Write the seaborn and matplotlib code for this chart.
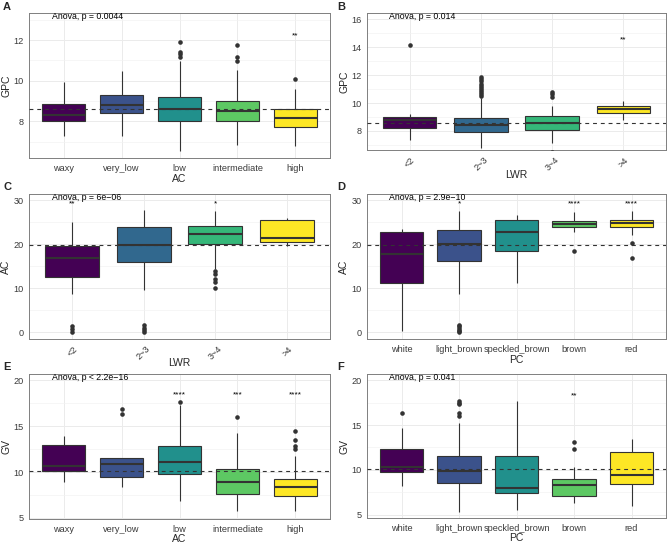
import numpy as np
import pandas as pd
import matplotlib
matplotlib.use('Agg')
import matplotlib.pyplot as plt
from matplotlib.ticker import MultipleLocator
import seaborn as sns

# ---- data (box stats: lower whisker, q1, median, q3, upper whisker)
ac_levels = ['waxy', 'very_low', 'low', 'intermediate', 'high']
lwr_levels = ['<2', '2~3', '3~4', '>4']
pc_levels = ['white', 'light_brown', 'speckled_brown', 'brown', 'red']

viridis5 = ['#440154', '#3B528B', '#21908C', '#5DC863', '#FDE725']
viridis4 = ['#440154', '#31688E', '#35B779', '#FDE725']

# A: GPC ~ AC
a_lo = [7.26, 7.26, 6.52, 6.85, 6.77]
a_q1 = [8.00, 8.39, 8.00, 8.00, 7.72]
a_med = [8.30, 8.80, 8.62, 8.52, 8.18]
a_q3 = [8.85, 9.30, 9.21, 9.02, 8.61]
a_hi = [9.92, 10.46, 10.98, 10.54, 9.59]
a_out = [[], [], [11.15, 11.33, 11.39, 11.90], [10.98, 11.16, 11.74], [10.10]]
a_mean = 8.59
a_stars = ['', '', '', '', '**']
a_star_y = 12.2
a_anova = 'Anova, p = 0.0044'

# B: GPC ~ LWR
b_lo = [7.35, 6.75, 7.10, 8.75]
b_q1 = [8.19, 7.90, 8.10, 9.28]
b_med = [8.80, 8.39, 8.60, 9.59]
b_q3 = [9.01, 8.92, 9.06, 9.81]
b_hi = [9.20, 10.36, 9.76, 10.12]
b_out = [[14.14], [10.50, 10.65, 10.80, 10.95, 11.05, 11.20, 11.40, 11.60, 11.75, 11.90],
         [6.48, 10.43, 10.67, 10.82], []]
b_mean = 8.58
b_stars = ['', '', '', '**']
b_star_y = 14.5
b_anova = 'Anova, p = 0.014'

# C: AC ~ LWR
c_lo = [8.7, 9.5, 14.3, 19.6]
c_q1 = [12.5, 15.9, 20.0, 20.5]
c_med = [16.75, 19.85, 22.4, 21.3]
c_q3 = [19.6, 23.8, 24.1, 25.4]
c_hi = [25.0, 27.8, 27.5, 25.9]
c_out = [[0.0, 0.83, 1.36], [0.1, 0.45, 1.0, 1.6], [10.0, 11.5, 12.2, 13.2, 13.8], []]
c_mean = 19.85
c_stars = ['**', '', '*', '']
c_star_y = 29.1
c_anova = 'Anova, p = 6e\u221206'

# D: AC ~ PC
d_lo = [0.2, 8.75, 11.2, 22.7, 22.1]
d_q1 = [11.3, 16.1, 18.4, 23.9, 23.9]
d_med = [17.8, 20.0, 22.7, 24.5, 24.8]
d_q3 = [22.7, 23.1, 25.4, 25.2, 25.4]
d_hi = [23.5, 27.6, 26.6, 27.2, 27.6]
d_out = [[], [0.0, 0.3, 0.6, 1.0, 1.4, 1.7], [], [18.5], [16.75, 20.3]]
d_mean = 19.85
d_stars = ['', '*', '', '****', '****']
d_star_y = 29.1
d_anova = 'Anova, p = 2.9e\u221210'

# E: GV ~ AC
e_lo = [8.88, 8.37, 6.80, 5.72, 5.72]
e_q1 = [10.07, 9.50, 9.78, 7.57, 7.39]
e_med = [10.65, 10.83, 11.10, 8.95, 8.37]
e_q3 = [13.00, 11.56, 12.83, 10.36, 9.27]
e_hi = [13.98, 11.56, 17.30, 14.30, 11.78]
e_out = [[], [16.33, 16.88], [17.68], [16.05], [12.50, 12.86, 13.50, 14.50]]
e_mean = 10.07
e_stars = ['', '', '****', '***', '****']
e_star_y = 18.4
e_anova = 'Anova, p < 2.2e\u221216'

# F: GV ~ PC
f_lo = [8.20, 5.30, 5.56, 6.30, 5.93]
f_q1 = [9.81, 8.52, 7.40, 7.10, 8.41]
f_med = [10.37, 9.93, 7.93, 8.33, 9.48]
f_q3 = [12.30, 11.52, 11.60, 8.96, 11.96]
f_hi = [14.63, 15.26, 17.67, 10.37, 13.44]
f_out = [[16.3], [16.0, 16.3, 17.3, 17.5, 17.7], [], [12.3, 13.07], []]
f_mean = 10.07
f_stars = ['', '', '', '**', '']
f_star_y = 18.3
f_anova = 'Anova, p = 0.041'

sns.set_style('white')
plt.rcParams['font.family'] = ['Liberation Sans', 'DejaVu Sans']

fig = plt.figure(figsize=(6.69, 5.44), dpi=100)
W, H = 669, 544


def px_axes(left, top, right, bottom):
    return fig.add_axes([left / W, 1 - bottom / H, (right - left) / W, (bottom - top) / H])


def panel(ax, levels, colors, lo, q1, med, q3, hi, outs, mean, stars, star_y,
          anova, xlabel, ylabel, ylim, ymajor, yminor, rotate=False, xpad=1.0):
    rows = []
    for lev, a, b, c, d, e in zip(levels, lo, q1, med, q3, hi):
        for v in (a, b, c, d, e):
            rows.append((lev, v))
    box_df = pd.DataFrame(rows, columns=['grp', 'val'])
    out_df = pd.DataFrame([(lev, v) for lev, vs in zip(levels, outs) for v in vs],
                          columns=['grp', 'val'])

    sns.boxplot(data=box_df, x='grp', y='val', hue='grp', order=levels,
                hue_order=levels, palette=colors, saturation=1, whis=(0, 100),
                showfliers=False, showcaps=False, width=0.75,
                linecolor='#333333', linewidth=0.8, legend=False, ax=ax,
                medianprops=dict(linewidth=1.5, color='#333333'))
    if len(out_df):
        sns.stripplot(data=out_df, x='grp', y='val', order=levels, jitter=False,
                      color='#333333', size=3.3, linewidth=0, ax=ax)

    ax.axhline(mean, color='#333333', lw=0.8, ls=(0, (3.5, 3.5)), zorder=5)

    for i, s in enumerate(stars):
        if s:
            ax.text(i, star_y, s, ha='center', va='center', fontsize=6, color='black')
    ax.text(0.075, 0.975, anova, transform=ax.transAxes, ha='left', va='center',
            fontsize=6.3, color='black')

    ax.set_xlim(-0.6, len(levels) - 0.4)
    ax.set_ylim(*ylim)
    ax.yaxis.set_major_locator(MultipleLocator(ymajor))
    ax.yaxis.set_minor_locator(MultipleLocator(yminor))
    ax.set_axisbelow(True)
    ax.grid(True, which='major', color='#EBEBEB', lw=0.7)
    ax.grid(True, which='minor', axis='y', color='#F2F2F2', lw=0.45)
    ax.tick_params(which='major', length=2, width=0.5, color='#333333',
                   labelsize=6.6, labelcolor='#3A3A3A', pad=2)
    ax.tick_params(which='minor', length=0)
    for sp in ax.spines.values():
        sp.set_color('#7F7F7F')
        sp.set_linewidth(0.7)
    if rotate:
        for lab in ax.get_xticklabels():
            lab.set_rotation(45)
            lab.set_ha('center')
            lab.set_va('top')
    ax.set_xlabel(xlabel, fontsize=7.5, labelpad=xpad)
    ax.set_ylabel(ylabel, fontsize=7.5, labelpad=1.5)


axA = px_axes(29, 13, 330, 158)
axB = px_axes(367, 13, 666, 150)
axC = px_axes(29, 194, 330, 339)
axD = px_axes(367, 194, 666, 339)
axE = px_axes(29, 374, 330, 519)
axF = px_axes(367, 374, 666, 518)

panel(axA, ac_levels, viridis5, a_lo, a_q1, a_med, a_q3, a_hi, a_out, a_mean,
      a_stars, a_star_y, a_anova, 'AC', 'GPC', (6.2, 13.33), 2, 1)
panel(axB, lwr_levels, viridis4, b_lo, b_q1, b_med, b_q3, b_hi, b_out, b_mean,
      b_stars, b_star_y, b_anova, 'LWR', 'GPC', (6.63, 16.46), 2, 1, rotate=True, xpad=-2)
panel(axC, lwr_levels, viridis4, c_lo, c_q1, c_med, c_q3, c_hi, c_out, c_mean,
      c_stars, c_star_y, c_anova, 'LWR', 'AC', (-1.5, 31.36), 10, 5, rotate=True, xpad=-3)
panel(axD, pc_levels, viridis5, d_lo, d_q1, d_med, d_q3, d_hi, d_out, d_mean,
      d_stars, d_star_y, d_anova, 'PC', 'AC', (-1.5, 31.36), 10, 5)
panel(axE, ac_levels, viridis5, e_lo, e_q1, e_med, e_q3, e_hi, e_out, e_mean,
      e_stars, e_star_y, e_anova, 'AC', 'GV', (4.89, 20.69), 5, 2.5, xpad=0.3)
panel(axF, pc_levels, viridis5, f_lo, f_q1, f_med, f_q3, f_hi, f_out, f_mean,
      f_stars, f_star_y, f_anova, 'PC', 'GV', (4.63, 20.7), 5, 2.5, xpad=0.3)

for lab, (x, y) in zip('ABCDEF', [(3, 7), (337, 7), (3, 187), (337, 187), (3, 367), (337, 367)]):
    fig.text(x / W, 1 - y / H, lab, fontsize=8, fontweight='bold', ha='left', va='center')

fig.savefig('out.png', dpi=100)
